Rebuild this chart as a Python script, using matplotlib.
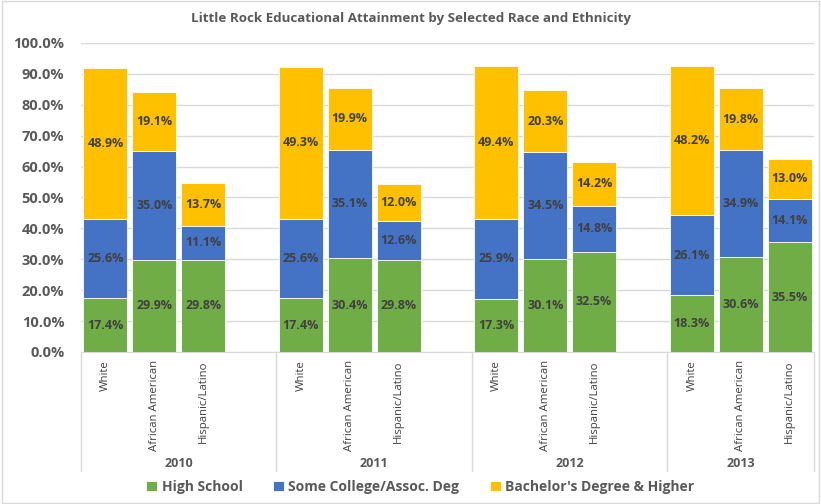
import matplotlib.pyplot as plt
import numpy as np
from matplotlib.patches import Rectangle
from matplotlib.transforms import blended_transform_factory

plt.rcParams['font.family'] = ['Open Sans', 'DejaVu Sans']

years = ['2010', '2011', '2012', '2013']
races = ['White', 'African American', 'Hispanic/Latino']
series_names = ['High School', 'Some College/Assoc. Deg', "Bachelor's Degree & Higher"]

high_school = [17.4, 29.9, 29.8, 17.4, 30.4, 29.8, 17.3, 30.1, 32.5, 18.3, 30.6, 35.5]
some_college = [25.6, 35.0, 11.1, 25.6, 35.1, 12.6, 25.9, 34.5, 14.8, 26.1, 34.9, 14.1]
bachelors = [48.9, 19.1, 13.7, 49.3, 19.9, 12.0, 49.4, 20.3, 14.2, 48.2, 19.8, 13.0]

colors = ['#70AD47', '#4472C4', '#FFC000']
text_col = '#404040'
grid_col = '#D9D9D9'

# slot positions: 3 bars per year, one empty slot between years
pos = []
for g in range(len(years)):
    for j in range(len(races)):
        pos.append(g * 4 + j)
pos = np.array(pos)

fig = plt.figure(figsize=(8.21, 5.04), dpi=100)
ax = fig.add_axes([0.0987, 0.3016, 0.8928, 0.6131])

bottom = np.zeros(len(pos))
for vals, col, name in zip([high_school, some_college, bachelors], colors, series_names):
    vals = np.array(vals)
    ax.bar(pos, vals, 0.9, bottom=bottom, color=col, label=name,
           edgecolor='white', linewidth=0.6, zorder=3)
    for x, b, v in zip(pos, bottom, vals):
        ax.text(x, b + v / 2, f'{v:.1f}%', ha='center', va='center',
                fontsize=9, fontweight='bold', color=text_col, zorder=4)
    bottom += vals

ax.set_xlim(-0.5, 14.5)
ax.set_ylim(0, 100)
ax.set_yticks(np.arange(0, 101, 10))
ax.set_yticklabels([f'{v:.1f}%' for v in np.arange(0, 101, 10)],
                   fontsize=10.5, fontweight='bold', color='#595959')
ax.yaxis.grid(True, color=grid_col, linewidth=1, zorder=0)
ax.tick_params(axis='y', length=0, pad=12)
for s in ['top', 'right', 'left']:
    ax.spines[s].set_visible(False)
ax.spines['bottom'].set_color(grid_col)

ax.set_xticks(pos)
ax.set_xticklabels(races * len(years), rotation=90, fontsize=8.2, color=text_col, va='top')
ax.tick_params(axis='x', length=0, pad=6)

trans = blended_transform_factory(ax.transData, ax.transAxes)
for sx in [-0.5, 3.5, 7.5, 11.5, 14.5]:
    ax.plot([sx, sx], [0, -0.385], transform=trans, color=grid_col,
            linewidth=1, clip_on=False)
for yx, yr in zip([1.5, 5.5, 9.5, 13.0], years):
    ax.text(yx, -0.362, yr, transform=trans, ha='center', va='center',
            fontsize=9, fontweight='bold', color='#595959')

fig.text(0.5, 0.964, 'Little Rock Educational Attainment by Selected Race and Ethnicity',
         ha='center', va='center', fontsize=9.6, fontweight='bold', color='#595959')

fig.legend(loc='center', bbox_to_anchor=(0.512, 0.034), ncol=3, frameon=False,
           prop={'size': 10, 'weight': 'bold'}, labelcolor='#595959',
           handlelength=0.8, handleheight=0.8, handletextpad=0.3, columnspacing=2.2)

fig.patches.append(Rectangle((0.002, 0.002), 0.996, 0.996, transform=fig.transFigure,
                             fill=False, edgecolor=grid_col, linewidth=1))

fig.savefig('out.png', dpi=100)
